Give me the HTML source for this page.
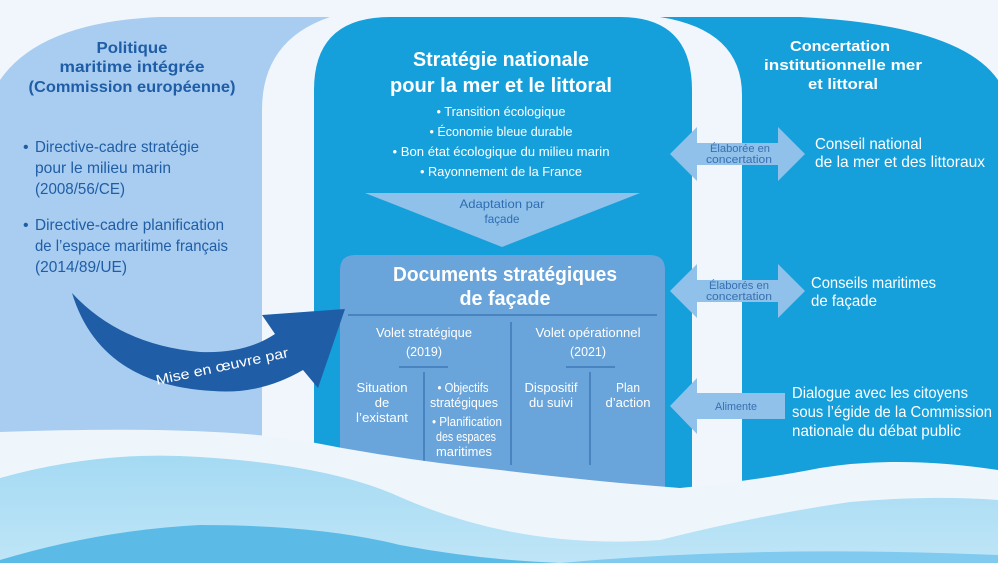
<!DOCTYPE html>
<html><head><meta charset="utf-8"><style>
html,body{margin:0;padding:0;background:#f1f6fc;}
svg{display:block}
text{font-family:"Liberation Sans",sans-serif;}
</style></head><body>
<svg width="998" height="563" viewBox="0 0 998 563" xmlns="http://www.w3.org/2000/svg">
<defs>
<linearGradient id="w1" x1="0" y1="0" x2="0" y2="1"><stop offset="0" stop-color="#a4daf3"/><stop offset="1" stop-color="#bfe5f7"/></linearGradient>
</defs>
<rect width="998" height="563" fill="#f1f6fc"/>
<path d="M0 80 Q40 22 160 17 L330 17 Q262 40 262 110 L262 470 L0 470 Z" fill="#a9cdf0"/>
<path d="M314 500 L314 90 Q314 17 390 17 L620 17 Q692 17 692 90 L692 500 Z" fill="#159fdb"/>
<path d="M742 500 L742 95 Q742 30 660 17 L800 17 Q960 25 998 80 L998 500 Z" fill="#159fdb"/>
<polygon points="365,193 640,193 502,247" fill="#8fc1ea"/>
<path d="M340 500 L340 270 Q340 255 355 255 L650 255 Q665 255 665 270 L665 500 Z" fill="#69a4da"/>
<line x1="348" y1="315" x2="657" y2="315" stroke="#3f78b8" stroke-width="1.5"/>
<line x1="511" y1="322" x2="511" y2="465" stroke="#3f78b8" stroke-width="1.5"/>
<line x1="399" y1="367" x2="448" y2="367" stroke="#3f78b8" stroke-width="1.5"/>
<line x1="566" y1="367" x2="615" y2="367" stroke="#3f78b8" stroke-width="1.5"/>
<line x1="424" y1="372" x2="424" y2="465" stroke="#3f78b8" stroke-width="1.5"/>
<line x1="590" y1="372" x2="590" y2="465" stroke="#3f78b8" stroke-width="1.5"/>
<path d="M72 293 Q120 345 200 352 Q245 354 275 334 L262 315 L345 309 L318 388 L303 370 Q260 395 213 391 Q100 385 72 293 Z" fill="#1f5da6"/>
<text x="222" y="371" fill="#fff" font-size="14" text-anchor="middle" textLength="135" lengthAdjust="spacingAndGlyphs" transform="rotate(-12 222 366)">Mise en œuvre par</text>
<polygon points="670,154 697,127 697,143 778,143 778,127 805,154 778,181 778,165 697,165 697,181" fill="#8fc1ea"/>
<polygon points="670,291 697,264 697,280 778,280 778,264 805,291 778,318 778,302 697,302 697,318" fill="#8fc1ea"/>
<polygon points="670,406 697,378 697,393 785,393 785,419 697,419 697,434" fill="#8fc1ea"/>
<g fill="#3a6fb0" font-size="11" text-anchor="middle">
<text x="740" y="152" textLength="60" lengthAdjust="spacingAndGlyphs">Élaborée en</text><text x="739" y="163" textLength="66" lengthAdjust="spacingAndGlyphs">concertation</text>
<text x="739" y="289" textLength="60" lengthAdjust="spacingAndGlyphs">Élaborés en</text><text x="739" y="300" textLength="66" lengthAdjust="spacingAndGlyphs">concertation</text>
<text x="736" y="410" textLength="42" lengthAdjust="spacingAndGlyphs">Alimente</text>
</g>
<path d="M0 432 Q200 425 300 440 Q400 460 500 470 Q600 482 680 488 Q760 480 820 468 Q900 455 998 470 L998 563 L0 563 Z" fill="#eef6fc"/>
<path d="M0 478 Q100 450 200 457 Q330 465 400 497 Q520 550 660 540 Q760 515 850 502 Q930 495 998 500 L998 563 L0 563 Z" fill="url(#w1)"/>
<path d="M0 560 Q100 530 200 525 Q320 525 400 545 Q480 560 560 563 L0 563 Z" fill="#5bbbe6"/>
<path d="M560 563 Q760 545 998 555 L998 563 Z" fill="#7fcaee"/>
<g fill="#1f5da6" font-weight="bold" font-size="16" text-anchor="middle">
<text x="132" y="53" textLength="71" lengthAdjust="spacingAndGlyphs">Politique</text>
<text x="132" y="72" textLength="145" lengthAdjust="spacingAndGlyphs">maritime intégrée</text>
<text x="132" y="92" textLength="207" lengthAdjust="spacingAndGlyphs">(Commission européenne)</text>
</g>
<g fill="#1f5da6" font-size="16">
<text x="23" y="152">•</text>
<text x="35" y="152" textLength="164" lengthAdjust="spacingAndGlyphs">Directive-cadre stratégie</text>
<text x="35" y="173" textLength="136" lengthAdjust="spacingAndGlyphs">pour le milieu marin</text>
<text x="35" y="194" textLength="90" lengthAdjust="spacingAndGlyphs">(2008/56/CE)</text>
<text x="23" y="230">•</text>
<text x="35" y="230" textLength="189" lengthAdjust="spacingAndGlyphs">Directive-cadre planification</text>
<text x="35" y="251" textLength="193" lengthAdjust="spacingAndGlyphs">de l’espace maritime français</text>
<text x="35" y="272" textLength="92" lengthAdjust="spacingAndGlyphs">(2014/89/UE)</text>
</g>
<g fill="#fff" text-anchor="middle">
<text x="501" y="66" font-size="20" font-weight="bold" textLength="176" lengthAdjust="spacingAndGlyphs">Stratégie nationale</text>
<text x="501" y="92" font-size="20" font-weight="bold" textLength="222" lengthAdjust="spacingAndGlyphs">pour la mer et le littoral</text>
<text x="501" y="116" font-size="13" textLength="129" lengthAdjust="spacingAndGlyphs">• Transition écologique</text>
<text x="501" y="136" font-size="13" textLength="143" lengthAdjust="spacingAndGlyphs">• Économie bleue durable</text>
<text x="501" y="156" font-size="13" textLength="217" lengthAdjust="spacingAndGlyphs">• Bon état écologique du milieu marin</text>
<text x="501" y="176" font-size="13" textLength="162" lengthAdjust="spacingAndGlyphs">• Rayonnement de la France</text>
<text x="505" y="281" font-size="20" font-weight="bold" textLength="224" lengthAdjust="spacingAndGlyphs">Documents stratégiques</text>
<text x="505" y="305" font-size="20" font-weight="bold" textLength="91" lengthAdjust="spacingAndGlyphs">de façade</text>
<g font-size="13">
<text x="424" y="337" textLength="96" lengthAdjust="spacingAndGlyphs">Volet stratégique</text><text x="424" y="356" textLength="36" lengthAdjust="spacingAndGlyphs">(2019)</text>
<text x="588" y="337" textLength="105" lengthAdjust="spacingAndGlyphs">Volet opérationnel</text><text x="588" y="356" textLength="36" lengthAdjust="spacingAndGlyphs">(2021)</text>
<text x="382" y="392" textLength="51" lengthAdjust="spacingAndGlyphs">Situation</text><text x="382" y="407">de</text><text x="382" y="422" textLength="52" lengthAdjust="spacingAndGlyphs">l’existant</text>
<text x="463" y="392" textLength="51" lengthAdjust="spacingAndGlyphs">• Objectifs</text><text x="464" y="407" textLength="68" lengthAdjust="spacingAndGlyphs">stratégiques</text>
<text x="467" y="426" textLength="70" lengthAdjust="spacingAndGlyphs">• Planification</text><text x="466" y="441" textLength="60" lengthAdjust="spacingAndGlyphs">des espaces</text><text x="464" y="456" textLength="56" lengthAdjust="spacingAndGlyphs">maritimes</text>
<text x="551" y="392" textLength="53" lengthAdjust="spacingAndGlyphs">Dispositif</text><text x="551" y="407" textLength="44" lengthAdjust="spacingAndGlyphs">du suivi</text>
<text x="628" y="392" textLength="24" lengthAdjust="spacingAndGlyphs">Plan</text><text x="628" y="407" textLength="45" lengthAdjust="spacingAndGlyphs">d’action</text>
</g>
<text x="502" y="208" font-size="12" fill="#2f6db2" textLength="85" lengthAdjust="spacingAndGlyphs">Adaptation par</text>
<text x="502" y="223" font-size="12" fill="#2f6db2" textLength="35" lengthAdjust="spacingAndGlyphs">façade</text>
</g>
<g fill="#fff">
<g font-weight="bold" font-size="15" text-anchor="middle">
<text x="840" y="51" textLength="100" lengthAdjust="spacingAndGlyphs">Concertation</text>
<text x="843" y="70" textLength="158" lengthAdjust="spacingAndGlyphs">institutionnelle mer</text>
<text x="843" y="89" textLength="70" lengthAdjust="spacingAndGlyphs">et littoral</text>
</g>
<g font-size="16">
<text x="815" y="149" textLength="107" lengthAdjust="spacingAndGlyphs">Conseil national</text>
<text x="815" y="167" textLength="170" lengthAdjust="spacingAndGlyphs">de la mer et des littoraux</text>
<text x="811" y="288" textLength="125" lengthAdjust="spacingAndGlyphs">Conseils maritimes</text>
<text x="811" y="306" textLength="66" lengthAdjust="spacingAndGlyphs">de façade</text>
<text x="792" y="398" textLength="176" lengthAdjust="spacingAndGlyphs">Dialogue avec les citoyens</text>
<text x="792" y="417" textLength="200" lengthAdjust="spacingAndGlyphs">sous l’égide de la Commission</text>
<text x="792" y="436" textLength="169" lengthAdjust="spacingAndGlyphs">nationale du débat public</text>
</g>
</g>
</svg>
</body></html>
